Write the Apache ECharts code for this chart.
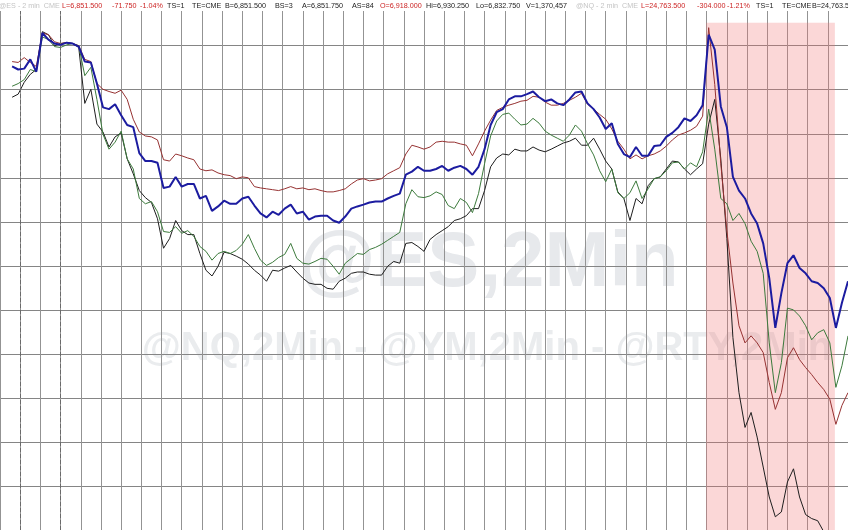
<!DOCTYPE html>
<html>
<head>
<meta charset="utf-8">
<title>@ES 2 min with @NQ, @YM, @RTY</title>
<script src="https://cdn.jsdelivr.net/npm/echarts@6/dist/echarts.min.js"></script>
<style>
  html, body { margin: 0; padding: 0; background: #fff; }
  #main { width: 848px; height: 530px; }
</style>
</head>
<body>
<div id="main"></div>
<script>
// 2-minute bars, sampled every 3 bars
var firstBar = 6;
var barStep = 3;

// normalised levels (one grid line per unit)
var es = [
  10.53,10.46,10.48,10.69,10.41,11.29,11.14,11.05,11.02,11.07,
  11.05,10.98,10.64,10.62,10.14,9.60,9.56,9.67,9.42,9.20,
  9.15,8.56,8.38,8.38,8.34,7.77,7.80,8.02,7.80,7.86,
  7.86,7.53,7.59,7.25,7.35,7.48,7.41,7.41,7.53,7.57,
  7.37,7.19,7.10,7.23,7.16,7.30,7.39,7.19,7.23,7.05,
  7.12,7.14,7.14,7.03,6.98,7.12,7.30,7.35,7.39,7.44,
  7.46,7.46,7.53,7.59,7.64,8.07,8.14,8.25,8.16,8.16,
  8.20,8.27,8.16,8.23,8.27,8.20,8.07,8.25,8.65,9.20,
  9.49,9.56,9.78,9.85,9.85,9.90,9.96,9.83,9.74,9.78,
  9.69,9.65,9.78,9.94,9.96,9.69,9.56,9.37,9.11,9.24,
  8.77,8.54,8.47,8.70,8.50,8.50,8.72,8.74,8.93,9.02,
  9.15,9.35,9.29,9.42,9.65,11.25,10.91,9.62,9.15,8.02,
  7.71,7.53,7.19,6.96,6.51,5.72,4.59,5.38,6.06,6.24,
  5.95,5.83,5.65,5.61,5.49,5.27,4.59,5.16,5.65
];
var nq = [
  10.64,10.62,10.73,10.62,10.53,11.29,11.25,11.09,11.05,11.07,
  11.05,11.00,10.69,10.64,10.14,10.01,9.96,9.92,9.99,9.78,
  9.33,9.04,8.95,8.93,8.86,8.41,8.38,8.54,8.50,8.45,
  8.41,8.20,8.16,8.18,8.11,8.07,8.05,7.98,8.02,8.00,
  7.80,7.77,7.75,7.73,7.71,7.75,7.80,7.75,7.77,7.73,
  7.75,7.71,7.68,7.68,7.71,7.75,7.86,7.95,7.98,7.93,
  7.95,7.98,8.09,8.16,8.23,8.54,8.74,8.70,8.65,8.70,
  8.81,8.83,8.81,8.81,8.77,8.74,8.50,8.77,9.06,9.31,
  9.53,9.60,9.65,9.69,9.74,9.76,9.85,9.83,9.72,9.65,
  9.65,9.69,9.76,9.83,9.92,9.67,9.56,9.44,9.33,9.11,
  8.83,8.65,8.43,8.52,8.43,8.50,8.54,8.61,8.72,8.86,
  8.97,9.02,9.08,9.17,9.40,11.41,10.12,8.32,6.80,5.61,
  4.64,4.25,4.41,4.25,4.03,3.35,2.74,3.12,3.91,4.14,
  3.87,3.69,3.53,3.35,3.19,2.97,2.40,2.83,3.12
];
var ym = [
  10.08,10.14,10.23,10.46,10.41,11.20,11.14,10.98,10.96,11.02,
  11.05,11.00,10.32,10.51,9.78,8.99,8.65,8.81,9.06,8.43,
  8.20,7.53,7.41,7.46,7.23,6.78,6.76,6.89,6.74,6.80,
  6.67,6.44,6.33,6.13,6.28,6.33,6.28,6.35,6.49,6.71,
  6.40,6.13,6.01,6.08,6.19,6.26,6.51,6.17,6.06,6.04,
  6.10,6.17,6.15,5.99,5.81,6.06,6.17,6.28,6.26,6.37,
  6.42,6.49,6.58,6.67,6.76,7.41,7.73,7.57,7.55,7.59,
  7.68,7.62,7.37,7.30,7.53,7.44,7.21,7.64,8.32,8.95,
  9.29,9.44,9.47,9.33,9.20,9.22,9.35,9.24,9.06,8.97,
  8.90,8.83,8.97,9.20,9.06,8.77,8.52,8.16,7.91,8.20,
  7.66,7.53,7.66,7.93,7.53,7.75,7.98,8.02,8.16,8.34,
  8.36,8.20,8.34,8.25,8.59,9.56,8.65,7.53,7.41,7.03,
  7.19,6.96,6.56,6.33,5.83,4.25,3.12,3.80,5.04,5.00,
  4.86,4.64,4.32,4.48,4.55,4.25,3.24,3.73,4.41
];
var rty = [
  9.83,9.90,10.17,10.35,10.46,11.32,11.25,11.00,11.05,11.07,
  11.05,10.96,9.69,10.01,9.22,9.04,8.70,8.93,9.02,8.43,
  8.09,7.71,7.55,7.44,7.07,6.40,6.62,7.03,6.80,6.71,
  6.71,6.28,5.90,5.77,5.99,6.31,6.28,6.22,6.15,6.04,
  5.90,5.79,5.65,5.90,5.88,5.95,6.01,5.86,5.72,5.61,
  5.58,5.58,5.49,5.47,5.65,5.72,5.83,5.86,5.86,5.81,
  5.79,5.79,5.99,6.10,6.06,6.51,6.53,6.44,6.33,6.60,
  6.71,6.80,6.89,7.03,7.07,7.14,7.30,7.30,7.71,8.25,
  8.45,8.54,8.52,8.65,8.61,8.61,8.70,8.63,8.59,8.65,
  8.72,8.79,8.83,8.90,8.74,8.74,8.90,8.65,8.38,8.20,
  7.68,7.53,7.03,7.53,7.41,7.82,7.98,8.02,8.20,8.38,
  8.36,8.20,8.07,8.20,8.32,9.22,9.78,8.43,6.62,4.37,
  3.12,2.33,2.67,2.11,1.43,0.75,0.30,0.41,1.09,1.39,
  0.75,0.35,0.26,0.21,-0.04,-0.26,-0.49,-0.60,-0.71
];

// session break bars and the highlighted selloff window
var sessionBreaks = [10, 30];
var shadeStart = 349.7, shadeEnd = 413.5, shadeTop = 11.52;

function pairs(vals) {
  return vals.map(function (v, i) { return [firstBar + i * barStep, v]; });
}

var headerFont = '7.2px "Liberation Sans", Arial, sans-serif';
var header = [
  ['@ES - 2 min  CME', -1, '#c4c4c4'],
  ['L=6,851.500', 62, '#cc2424'], ['-71.750', 112, '#cc2424'], ['-1.04%', 140, '#cc2424'],
  ['TS=1', 167, '#1a1a1a'], ['TE=CME', 192, '#1a1a1a'], ['B=6,851.500', 225, '#1a1a1a'],
  ['BS=3', 275, '#1a1a1a'], ['A=6,851.750', 302, '#1a1a1a'], ['AS=84', 352, '#1a1a1a'],
  ['O=6,918.000', 380, '#cc2424'],
  ['Hi=6,930.250', 426, '#1a1a1a'], ['Lo=6,832.750', 476, '#1a1a1a'], ['V=1,370,457', 526, '#1a1a1a'],
  ['@NQ - 2 min  CME', 576, '#c4c4c4'],
  ['L=24,763.500', 641, '#cc2424'], ['-304.000', 697, '#cc2424'], ['-1.21%', 727, '#cc2424'],
  ['TS=1', 756, '#1a1a1a'], ['TE=CME', 782, '#1a1a1a'], ['B=24,763.500', 812, '#1a1a1a']
];

var graphics = [
  {
    type: 'text', z: -5, silent: true,
    x: 489, y: 303,
    style: { text: '@ES,2Min', textAlign: 'center', textVerticalAlign: 'bottom',
             font: 'bold 78px "Liberation Sans", Arial, sans-serif', fill: '#e7e9ec' }
  },
  {
    type: 'text', z: -5, silent: true,
    x: 487, y: 369,
    style: { text: '@NQ,2Min - @YM,2Min - @RTY,2Min', textAlign: 'center', textVerticalAlign: 'bottom',
             font: 'bold 40px "Liberation Sans", Arial, sans-serif', fill: '#eaecee' }
  },
  {
    type: 'rect', z: 100, silent: true,
    shape: { x: 0, y: 0, width: 848, height: 11 },
    style: { fill: '#fff' }
  }
];
header.forEach(function (h) {
  graphics.push({
    type: 'text', z: 101, silent: true, x: h[1], y: 6,
    style: { text: h[0], textVerticalAlign: 'middle', font: headerFont, fill: h[2] }
  });
});

var chart = echarts.init(document.getElementById('main'));
chart.setOption({
  animation: false,
  backgroundColor: '#fff',
  grid: { left: -13.29, top: 1.7, width: 864.8, height: 532 },
  xAxis: {
    type: 'value', min: 0, max: 420, interval: 10,
    axisLine: { show: false }, axisTick: { show: false }, axisLabel: { show: false },
    splitLine: { show: true, lineStyle: { color: '#939393', width: 1 } }
  },
  yAxis: {
    type: 'value', min: 0, max: 12, interval: 1,
    axisLine: { show: false }, axisTick: { show: false }, axisLabel: { show: false },
    splitLine: { show: true, lineStyle: { color: '#858585', width: 1 } }
  },
  graphic: graphics,
  series: [
    {
      name: 'shade', type: 'line', data: [], z: 1, silent: true,
      markArea: {
        silent: true,
        itemStyle: { color: 'rgba(240,110,110,0.28)' },
        data: [[{ xAxis: shadeStart, yAxis: shadeTop }, { xAxis: shadeEnd, yAxis: 0 }]]
      },
      markLine: {
        silent: true, symbol: 'none', label: { show: false },
        lineStyle: { color: '#6a6a6a', type: 'dashed', width: 1 },
        data: sessionBreaks.map(function (b) { return { xAxis: b }; })
      }
    },
    { name: 'RTY', type: 'line', data: pairs(rty), showSymbol: false, z: 3,
      lineStyle: { color: '#1e1e1e', width: 1 } },
    { name: 'YM', type: 'line', data: pairs(ym), showSymbol: false, z: 3,
      lineStyle: { color: '#3c7a3c', width: 1 } },
    { name: 'NQ', type: 'line', data: pairs(nq), showSymbol: false, z: 3,
      lineStyle: { color: '#963232', width: 1 } },
    { name: 'ES', type: 'line', data: pairs(es), showSymbol: false, z: 4,
      lineStyle: { color: '#1c1ca0', width: 2 } }
  ]
});
</script>
</body>
</html>
